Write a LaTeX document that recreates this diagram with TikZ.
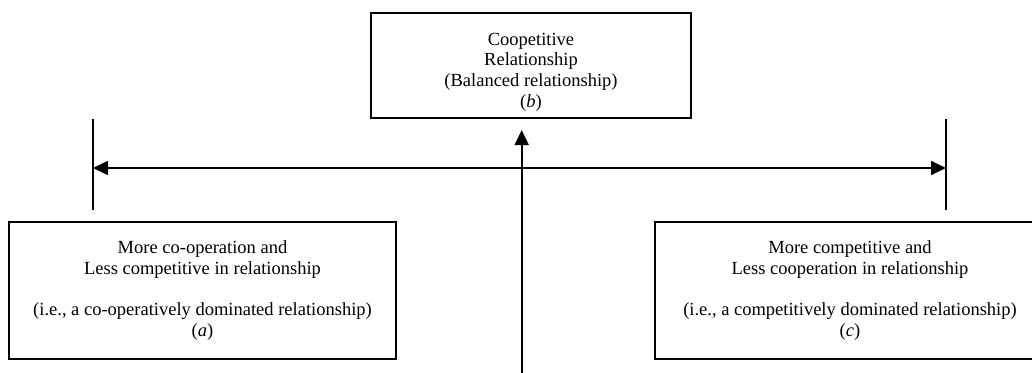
\documentclass[tikz,border=0pt]{standalone}
\usepackage{fontspec}
\setmainfont{Liberation Serif}
\usetikzlibrary{arrows.meta}
\tikzset{
  box/.style={draw, line width=1.9pt, minimum width=387pt, minimum height=137pt, inner sep=0pt},
  boxtext/.style={align=center, inner sep=0pt, font=\fontsize{18.5pt}{20.7pt}\selectfont},
  conn/.style={line width=1.7pt},
  tip/.style={Triangle[length=15pt,width=14pt]},
  arr/.style={conn, -{Triangle[length=15pt,width=14pt]}},
}
\begin{document}
\begin{tikzpicture}[x=1pt,y=-1pt]
\useasboundingbox (0,0) rectangle (1032,372);
% boxes
\node[box, minimum width=320pt, minimum height=105pt] (b) at (531,65.5) {};
\node[boxtext] (bt) at (531,72) {Coopetitive\\Relationship\\(Balanced relationship)\\(\textit{b})};
\node[box] (a) at (202.5,290.5) {};
\node[boxtext] (at) at (202.5,290.5) {More co-operation and\\Less competitive in relationship\\[20.7pt](i.e., a co-operatively dominated relationship)\\(\textit{a})};
\node[box] (c) at (848.5,290.5) {};
\node[boxtext] (ct) at (850,290.5) {More competitive and\\Less cooperation in relationship\\[20.7pt](i.e., a competitively dominated relationship)\\(\textit{c})};
% side bars
\coordinate (lt) at (93,119);
\coordinate (lb) at (93,210);
\coordinate (lm) at (93,168);
\coordinate (rt) at (946,119);
\coordinate (rb) at (946,210);
\coordinate (rm) at (946,168);
\draw[conn] (lt) -- (lb);
\draw[conn] (rt) -- (rb);
\draw[conn, {Triangle[length=15pt,width=14pt]}-{Triangle[length=15pt,width=14pt]}] (lm) -- (rm);
% vertical arrow
\coordinate (vb) at (521.7,375);
\coordinate (vt) at (521.7,130);
\draw[arr] (vb) -- (vt);
\end{tikzpicture}
\end{document}
